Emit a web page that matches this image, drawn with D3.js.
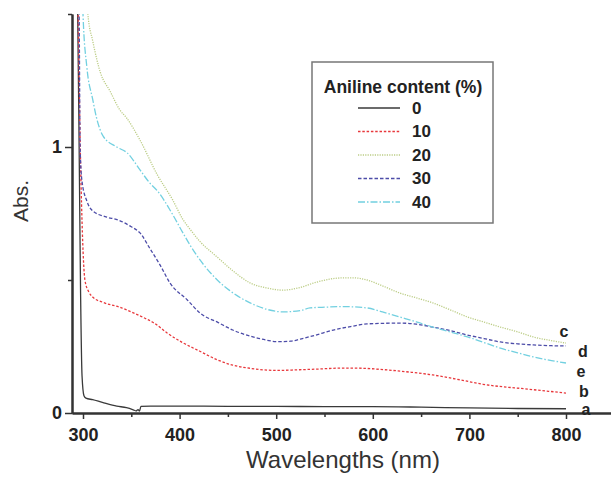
<!DOCTYPE html>
<html>
<head>
<meta charset="utf-8">
<script src="https://cdn.jsdelivr.net/npm/d3@7/dist/d3.min.js"></script>
<style>
  body { margin: 0; background: #fff; }
  svg { display: block; font-family: "Liberation Sans", Arial, sans-serif; }
</style>
</head>
<body>
<script>
var width = 611;
var height = 483;

// Aniline content (%) of each spectrum, its curve letter and its readings
var contents = ["0", "10", "20", "30", "40"];
var letters = ["a", "b", "c", "d", "e"];

var wl0 = [291, 292.5, 294.5, 296, 297.5, 299, 301, 303, 310, 320, 335, 345, 352, 355, 357, 358.5, 360, 370, 400, 450, 500, 550, 600, 650, 700, 750, 800];
var abs0 = [2.0, 1.8, 1.5, 1.0, 0.45, 0.14, 0.065, 0.056, 0.05, 0.04, 0.026, 0.02, 0.012, 0.008, 0.013, 0.007, 0.025, 0.026, 0.026, 0.025, 0.025, 0.024, 0.024, 0.022, 0.019, 0.017, 0.016];

var wl10 = [293, 295, 297, 299, 302, 306, 310, 320, 338, 350, 362, 375, 387, 403, 421, 439, 455, 473, 501, 520, 542, 569, 590, 611, 640, 662, 690, 714, 760, 800];
var abs10 = [1.9, 1.5, 1.03, 0.72, 0.5, 0.455, 0.436, 0.417, 0.398, 0.38, 0.36, 0.335, 0.301, 0.265, 0.232, 0.2, 0.18, 0.168, 0.16, 0.162, 0.165, 0.169, 0.168, 0.163, 0.153, 0.143, 0.125, 0.108, 0.09, 0.075];

var wl20 = [302, 305, 310, 318, 328, 338, 345, 359, 377, 393, 403, 411, 421, 439, 455, 473, 490, 507, 525, 540, 555, 569, 580, 594, 610, 628, 645, 662, 680, 698, 715, 732, 750, 766, 785, 800];
var abs20 = [1.7, 1.5, 1.4, 1.28, 1.21, 1.14, 1.11, 1.026, 0.895, 0.8, 0.73, 0.69, 0.645, 0.586, 0.535, 0.489, 0.47, 0.462, 0.472, 0.49, 0.503, 0.508, 0.508, 0.5, 0.478, 0.451, 0.433, 0.414, 0.388, 0.361, 0.342, 0.323, 0.305, 0.286, 0.272, 0.263];

var wl30 = [294, 296, 297, 299, 304, 310, 324, 336, 350, 359, 369, 380, 390, 408, 421, 440, 455, 475, 490, 501, 515, 525, 540, 559, 577, 594, 610, 628, 645, 662, 680, 698, 715, 732, 750, 766, 785, 800];
var abs30 = [1.8, 1.5, 1.0, 0.87, 0.797, 0.76, 0.737, 0.726, 0.7, 0.677, 0.62, 0.555, 0.489, 0.425, 0.376, 0.34, 0.312, 0.287, 0.274, 0.268, 0.27, 0.278, 0.292, 0.312, 0.325, 0.335, 0.337, 0.338, 0.334, 0.323, 0.31, 0.293, 0.28, 0.267, 0.26, 0.256, 0.253, 0.252];

var wl40 = [299, 300, 304, 310, 314, 321, 335, 346, 359, 369, 377, 393, 403, 411, 439, 452, 473, 490, 507, 525, 535, 552, 569, 594, 610, 628, 645, 662, 680, 698, 715, 732, 750, 766, 785, 800];
var abs40 = [1.8, 1.5, 1.3, 1.18, 1.11, 1.04, 1.0, 0.977, 0.914, 0.865, 0.835, 0.745, 0.68, 0.63, 0.5, 0.46, 0.414, 0.39, 0.38, 0.385, 0.395, 0.398, 0.4, 0.395, 0.38, 0.361, 0.343, 0.323, 0.305, 0.286, 0.265, 0.244, 0.226, 0.211, 0.197, 0.188];

var xTicks = [300, 400, 500, 600, 700, 800];
var xMinor = [350, 450, 550, 650, 750];
var yTicks = [0, 1];
var yMinor = [0.5, 1.5];

var colors = ["#3a3a3a", "#e8383c", "#bccd86", "#4c4ca8", "#72d0e0"];
var dashes = [null, "2.5,1.8", "1.2,1.2", "3.5,2", "7,2,1.5,2"];

var series = [
  { wl: wl0, abs: abs0 },
  { wl: wl10, abs: abs10 },
  { wl: wl20, abs: abs20 },
  { wl: wl30, abs: abs30 },
  { wl: wl40, abs: abs40 }
];

var svg = d3.select("body").append("svg")
  .attr("width", width)
  .attr("height", height);

var xScale = d3.scaleLinear().domain([300, 800]).range([83, 566]);
xScale.domain([xScale.invert(72), xScale.invert(611)]).range([72, 611]);

var yScale = d3.scaleLinear().domain([0, 1.5]).range([413, 14]);

svg.append("clipPath").attr("id", "plot")
  .append("rect")
  .attr("x", 72).attr("y", 14)
  .attr("width", width - 72).attr("height", 413 - 14);

var line = d3.line()
  .x(function(d) { return xScale(d[0]); })
  .y(function(d) { return yScale(d[1]); })
  .curve(d3.curveMonotoneX);

svg.append("g").attr("clip-path", "url(#plot)")
  .selectAll("path")
  .data(series)
  .enter().append("path")
  .attr("d", function(s) { return line(d3.zip(s.wl, s.abs)); })
  .attr("fill", "none")
  .attr("stroke", function(s, i) { return colors[i]; })
  .attr("stroke-width", 1.3)
  .attr("stroke-dasharray", function(s, i) { return dashes[i]; });

// axes
function styleAxis(g) {
  g.select(".domain").attr("stroke", "#333").attr("stroke-width", 2);
  g.selectAll(".tick line").attr("stroke", "#333").attr("stroke-width", 1.5);
  g.selectAll(".tick text")
    .attr("fill", "#222")
    .style("font-size", "18px")
    .style("font-weight", "bold");
}

svg.append("g")
  .attr("transform", "translate(0," + yScale(0) + ")")
  .call(d3.axisBottom(xScale).tickValues(xTicks).tickSize(6).tickSizeOuter(0).tickPadding(9))
  .call(styleAxis);

svg.append("g")
  .attr("transform", "translate(0," + yScale(0) + ")")
  .call(d3.axisBottom(xScale).tickValues(xMinor).tickSize(4).tickSizeOuter(0).tickFormat(""))
  .call(styleAxis);

svg.append("g")
  .attr("transform", "translate(" + xScale.range()[0] + ",0)")
  .call(d3.axisLeft(yScale).tickValues(yTicks).tickSize(7).tickSizeOuter(0).tickFormat(d3.format("d")))
  .call(styleAxis);

svg.append("g")
  .attr("transform", "translate(" + xScale.range()[0] + ",0)")
  .call(d3.axisLeft(yScale).tickValues(yMinor).tickSize(4).tickSizeOuter(0).tickFormat(""))
  .call(styleAxis);

// axis titles
svg.append("text")
  .attr("x", 343)
  .attr("y", 468)
  .attr("text-anchor", "middle")
  .attr("fill", "#333")
  .style("font-size", "24px")
  .text("Wavelengths (nm)");

svg.append("text")
  .attr("transform", "translate(28,201) rotate(-90)")
  .attr("text-anchor", "middle")
  .attr("fill", "#333")
  .style("font-size", "21px")
  .text("Abs.");

// curve letters at the right end
var letterY = [409, 391, 331, 351, 371];
var letterX = [586, 584, 564, 583, 581];
svg.selectAll(".letter")
  .data(letters)
  .enter().append("text")
  .attr("class", "letter")
  .attr("x", function(d, i) { return letterX[i]; })
  .attr("y", function(d, i) { return letterY[i]; })
  .attr("dy", "0.35em")
  .attr("text-anchor", "middle")
  .attr("fill", "#222")
  .style("font-size", "16px")
  .style("font-weight", "bold")
  .text(function(d) { return d; });

// legend
var legend = svg.append("g").attr("transform", "translate(312,62)");

legend.append("rect")
  .attr("width", 181)
  .attr("height", 161)
  .attr("fill", "#fff")
  .attr("stroke", "#777")
  .attr("stroke-width", 1.5);

legend.append("text")
  .attr("x", 91)
  .attr("y", 31)
  .attr("text-anchor", "middle")
  .attr("fill", "#222")
  .style("font-size", "17.5px")
  .style("font-weight", "bold")
  .text("Aniline content (%)");

var rows = legend.selectAll(".row")
  .data(contents)
  .enter().append("g")
  .attr("class", "row")
  .attr("transform", function(d, i) { return "translate(0," + (46 + i * 23.5) + ")"; });

rows.append("line")
  .attr("x1", 46).attr("x2", 88)
  .attr("stroke", function(d, i) { return colors[i]; })
  .attr("stroke-width", 1.5)
  .attr("stroke-dasharray", function(d, i) { return dashes[i]; });

rows.append("text")
  .attr("x", 100)
  .attr("dy", "0.35em")
  .attr("fill", "#222")
  .style("font-size", "17px")
  .style("font-weight", "bold")
  .text(function(d) { return d; });
</script>
</body>
</html>
